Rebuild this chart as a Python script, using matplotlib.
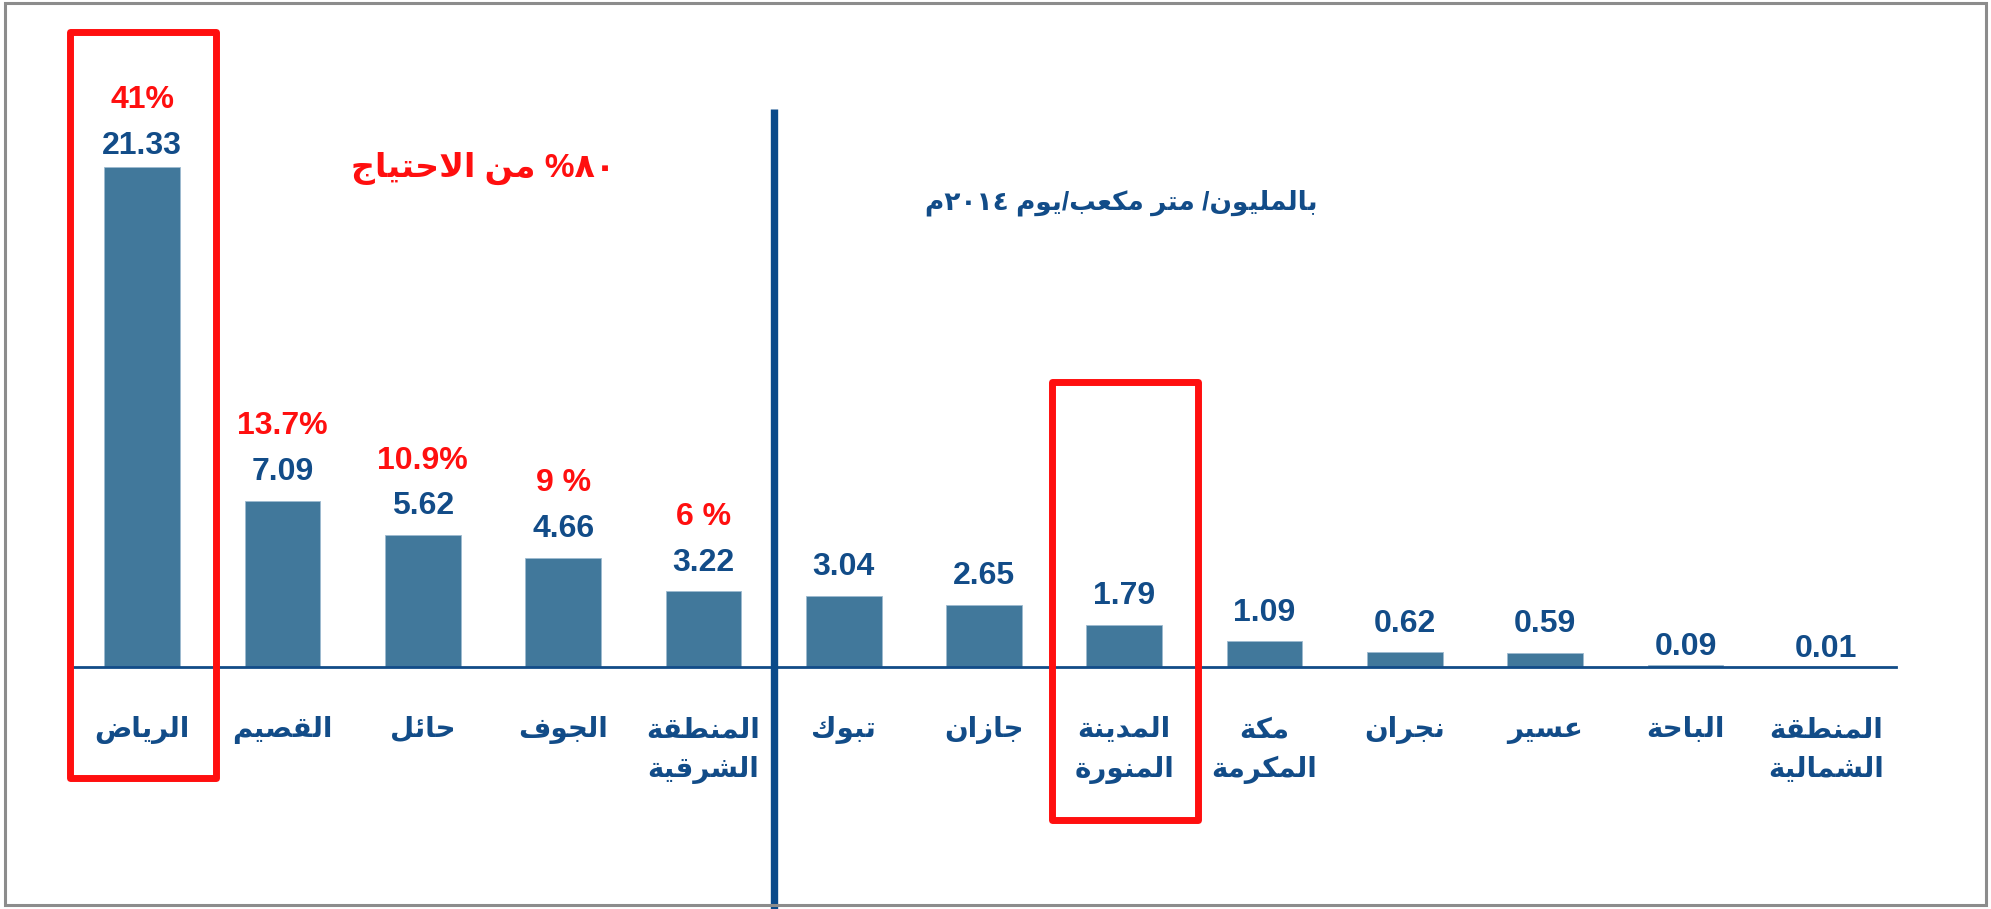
import re
import matplotlib
matplotlib.use("Agg")
import matplotlib.pyplot as plt
from matplotlib.patches import Rectangle

# ─── Data ─────────────────────────────────────────────────────────────────────

regions = ["الرياض", "القصيم", "حائل", "الجوف", "المنطقة\nالشرقية", "تبوك",
           "جازان", "المدينة\nالمنورة", "مكة\nالمكرمة", "نجران", "عسير",
           "الباحة", "المنطقة\nالشمالية"]
demand = [21.33, 7.09, 5.62, 4.66, 3.22, 3.04, 2.65, 1.79, 1.09, 0.62, 0.59, 0.09, 0.01]
shares = ["41%", "13.7%", "10.9%", "9 %", "6 %"]
highlight = [0, 7]
share_note = "٨٠% من الاحتياج"
unit_note = "بالمليون/ متر مكعب/يوم ٢٠١٤م"

# ─── Arabic shaping (no reshaper available offline) ──────────────────────────

ISO = {'ء': 0xFE80, 'آ': 0xFE81, 'أ': 0xFE83, 'ؤ': 0xFE85, 'إ': 0xFE87, 'ئ': 0xFE89,
       'ا': 0xFE8D, 'ب': 0xFE8F, 'ة': 0xFE93, 'ت': 0xFE95, 'ث': 0xFE99, 'ج': 0xFE9D,
       'ح': 0xFEA1, 'خ': 0xFEA5, 'د': 0xFEA9, 'ذ': 0xFEAB, 'ر': 0xFEAD, 'ز': 0xFEAF,
       'س': 0xFEB1, 'ش': 0xFEB5, 'ص': 0xFEB9, 'ض': 0xFEBD, 'ط': 0xFEC1, 'ظ': 0xFEC5,
       'ع': 0xFEC9, 'غ': 0xFECD, 'ف': 0xFED1, 'ق': 0xFED5, 'ك': 0xFED9, 'ل': 0xFEDD,
       'م': 0xFEE1, 'ن': 0xFEE5, 'ه': 0xFEE9, 'و': 0xFEED, 'ى': 0xFEEF, 'ي': 0xFEF1}
DUAL = set('بتثجحخسشصضطظعغفقكلمنهيئ')
RIGHT = set('اأإآدذرزوؤةى')
LAM_ALEF = {'ا': 0xFEFB, 'أ': 0xFEF7, 'إ': 0xFEF9, 'آ': 0xFEF5}


def shape(line):
    chars = []
    i = 0
    while i < len(line):
        c = line[i]
        if c == 'ل' and i + 1 < len(line) and line[i + 1] in LAM_ALEF:
            chars.append(('LA', LAM_ALEF[line[i + 1]]))
            i += 2
        else:
            chars.append((c, None))
            i += 1
    out = []
    for k, (c, lig) in enumerate(chars):
        prev = chars[k - 1][0] if k > 0 else None
        nxt = chars[k + 1][0] if k + 1 < len(chars) else None
        joins = lambda ch: ch in DUAL or ch in RIGHT or ch == 'LA'
        join_prev = prev in DUAL and joins(c)
        if lig:
            out.append(chr(lig + (1 if join_prev else 0)))
            continue
        if c not in ISO:
            out.append(c)
            continue
        join_next = c in DUAL and nxt is not None and joins(nxt)
        if join_prev and join_next:
            form = 3
        elif join_prev:
            form = 1
        elif join_next:
            form = 2
        else:
            form = 0
        out.append(chr(ISO[c] + form))
    return ''.join(out)


def ar(text):
    lines = []
    for line in text.split("\n"):
        runs = re.findall(r'[0-9\u0660-\u0669.]+|[^0-9\u0660-\u0669.]+', shape(line))
        parts = [r if r[0].isdigit() else r[::-1] for r in runs]
        lines.append(''.join(parts[::-1]))
    return "\n".join(lines)


# ─── Style ────────────────────────────────────────────────────────────────────

BAR = "#41789b"
NAVY = "#124c88"
RED = "#ff0f0f"
FONT = ["Liberation Sans", "DejaVu Sans"]
plt.rcParams["font.family"] = FONT

W, H = 1991, 909
fig = plt.figure(figsize=(W / 100, H / 100), dpi=100)
ax = fig.add_axes([72 / W, 1 - 667 / H, 1824 / W, 637 / H])

x = list(range(len(demand)))
ax.bar(x, demand, width=0.54, color=BAR, edgecolor="#9dbad0", linewidth=0.6, zorder=2)
ax.set_xlim(-0.5, 12.5)
ax.set_ylim(0, 27.16)

for s in ["top", "left", "right"]:
    ax.spines[s].set_visible(False)
ax.spines["bottom"].set_color(NAVY)
ax.spines["bottom"].set_linewidth(2)
ax.set_xticks([])
ax.set_yticks([])

# value labels + share labels
gap = {0: 9.5, 11: 7, 12: 7}
for i, v in enumerate(demand):
    g = gap.get(i, 15)
    ax.annotate(f"{v:.2f}", xy=(i, v), xytext=(0, g), textcoords="offset points",
                ha="center", va="baseline", fontsize=23, fontweight="bold", color=NAVY)
    if i < len(shares):
        ax.annotate(shares[i], xy=(i, v), xytext=(0, g + 33), textcoords="offset points",
                    ha="center", va="baseline", fontsize=23, fontweight="bold", color=RED)

# category labels, one line at a time
for i, name in enumerate(regions):
    for k, line in enumerate(name.split("\n")):
        ax.annotate(ar(line), xy=(i, 0), xytext=(0, -(70 + 40 * k) * 0.72),
                    textcoords="offset points", ha="center", va="baseline",
                    fontsize=20, fontweight="bold", color=NAVY, annotation_clip=False)

# divider between the top five and the rest
ax.plot([4.5, 4.5], [23.8, -12], color="#0a4a8a", lw=5.3, clip_on=False, zorder=3,
        solid_capstyle="butt")

# red highlight boxes
for i, (top, bot) in zip(highlight, [(27.08, -4.73), (12.15, -6.52)]):
    r = Rectangle((i - 0.513, bot), 1.04, top - bot, fill=False, edgecolor=RED,
                  lw=5, clip_on=False, zorder=4, joinstyle="round")
    ax.add_patch(r)

# notes
fig.text(483 / W, 1 - 168 / H, ar(share_note), ha="center", va="center",
         fontsize=24, fontweight="bold", color=RED)
fig.text(1121 / W, 1 - 203 / H, ar(unit_note), ha="center", va="center",
         fontsize=19, fontweight="bold", color=NAVY)

# outer frame
fig.patches.append(Rectangle((5 / W, 4 / H), 1981 / W, 902 / H, transform=fig.transFigure,
                             fill=False, edgecolor="#8c8c8c", lw=2.2))

fig.savefig("out.png", dpi=100, facecolor="white")
